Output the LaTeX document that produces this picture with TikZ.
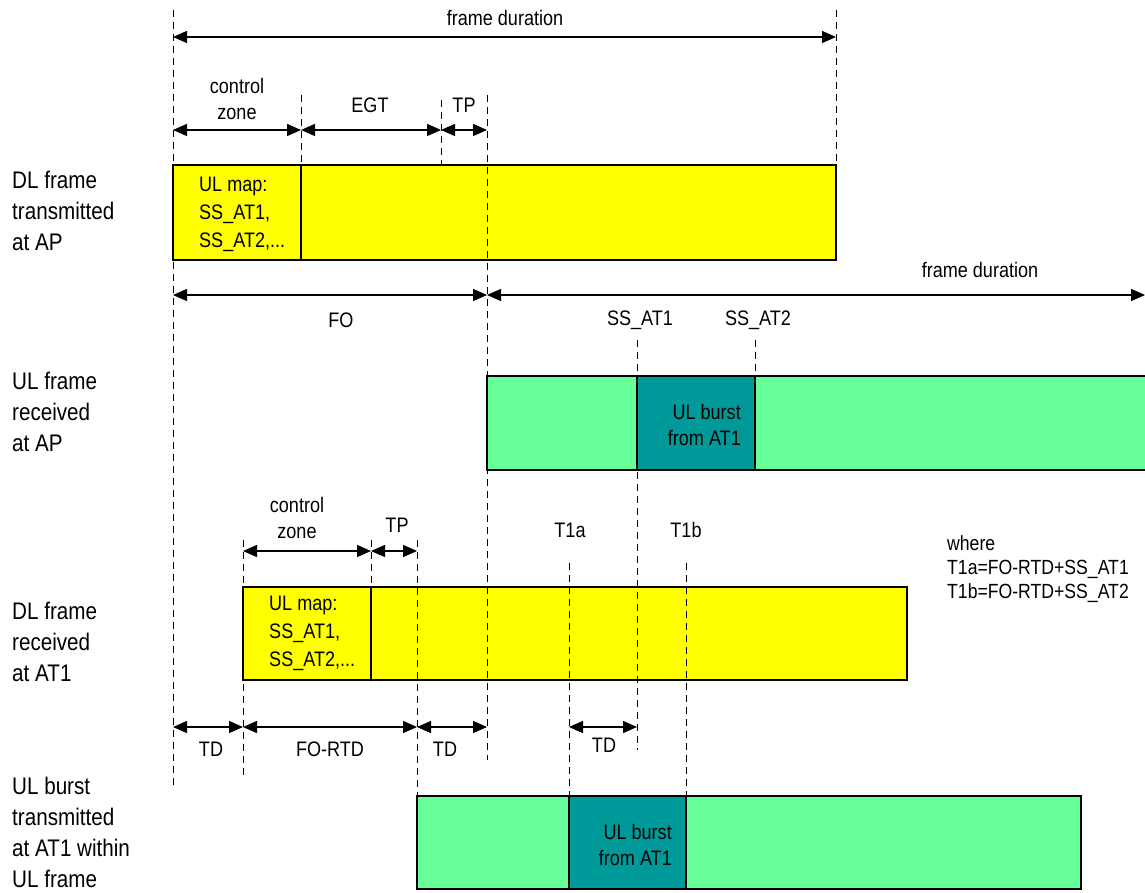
\documentclass[tikz,border=0pt]{standalone}
\usepackage{fontspec}
\setmainfont{Liberation Sans}[FakeStretch=0.86]
\usetikzlibrary{arrows.meta}
\definecolor{dlyellow}{RGB}{255,255,0}
\definecolor{ulgreen}{RGB}{102,255,153}
\definecolor{burstteal}{RGB}{0,153,153}
\tikzset{
  tmark/.style={dashed, dash pattern=on 7pt off 5pt, line width=1pt},
  span/.style={{Triangle[length=14pt,width=12pt]}-{Triangle[length=14pt,width=12pt]},
               line width=1.4pt},
  box/.style={line width=1.4pt},
  lbl/.style={font=\fontsize{21}{26}\selectfont, align=center, inner sep=0pt},
  rowlbl/.style={font=\fontsize{24}{31}\selectfont, align=left, anchor=west, inner sep=0pt},
  boxtxt/.style={font=\fontsize{21}{28}\selectfont, align=left, anchor=west, inner sep=0pt},
  bursttxt/.style={font=\fontsize{21}{26}\selectfont, align=right, anchor=east, inner sep=0pt}
}
\begin{document}
\begin{tikzpicture}[x=1pt, y=-1pt]
  \useasboundingbox (0,0) rectangle (1145,893);
  %--- boxes -----------------------------------------------------------------
  % DL frame transmitted at AP
  \filldraw[box, fill=dlyellow] (173,165) rectangle (836,260);
  \draw[box] (301,165) -- (301,260);
  \node[boxtxt] (mapap) at (199,214) {UL map:\\SS\_AT1,\\SS\_AT2,...};
  % UL frame received at AP
  \fill[ulgreen] (487,376) rectangle (1145,470);
  \filldraw[box, fill=burstteal] (637,376) rectangle (755,470);
  \draw[box] (1145,376) -- (487,376) -- (487,470) -- (1145,470);
  \node[bursttxt] (burstap) at (741,425) {UL burst\\from AT1};
  % DL frame received at AT1
  \filldraw[box, fill=dlyellow] (243,587) rectangle (907,680);
  \draw[box] (371,587) -- (371,680);
  \node[boxtxt] (mapat) at (269,633) {UL map:\\SS\_AT1,\\SS\_AT2,...};
  % UL burst transmitted at AT1
  \filldraw[box, fill=ulgreen] (417,796) rectangle (1081,889);
  \filldraw[box, fill=burstteal] (569,796) rectangle (686,889);
  \node[bursttxt] (burstat) at (672,845) {UL burst\\from AT1};
  %--- time marks ------------------------------------------------------------
  \draw[tmark] (173,10) -- (173,785);
  \draw[tmark] (836,10) -- (836,165);
  \draw[tmark] (301,95) -- (301,165);
  \draw[tmark] (441,100) -- (441,165);
  \draw[tmark] (487,95) -- (487,760);
  \draw[tmark] (637,340) -- (637,750);
  \draw[tmark] (755,340) -- (755,376);
  \draw[tmark] (243,540) -- (243,780);
  \draw[tmark] (371,540) -- (371,587);
  \draw[tmark] (417,540) -- (417,796);
  \draw[tmark] (569,563) -- (569,796);
  \draw[tmark] (686,563) -- (686,796);
  %--- spans -----------------------------------------------------------------
  \draw[span] (173,37) -- (836,37);
  \node[lbl] (fd1) at (505,18) {frame duration};
  \draw[span] (173,130) -- (301,130);
  \draw[span] (301,130) -- (441,130);
  \draw[span] (441,130) -- (487,130);
  \node[lbl] (cz1) at (237,99) {control\\zone};
  \node[lbl] (egt) at (370,105) {EGT};
  \node[lbl] (tp1) at (464,105) {TP};
  \draw[span] (173,295) -- (487,295);
  \draw[span] (487,295) -- (1145,295);
  \node[lbl] (fo) at (341,320) {FO};
  \node[lbl] (fd2) at (980,270) {frame duration};
  \node[lbl] (ss1) at (640,320) {SS\_AT1};
  \node[lbl] (ss2) at (758,320) {SS\_AT2};
  \draw[span] (243,551) -- (371,551);
  \draw[span] (371,551) -- (417,551);
  \node[lbl] (cz2) at (297,518) {control\\zone};
  \node[lbl] (tp2) at (397,525) {TP};
  \node[lbl] (t1a) at (570,530) {T1a};
  \node[lbl] (t1b) at (686,530) {T1b};
  \node[font=\fontsize{20.5}{24}\selectfont, align=left, anchor=west, inner sep=0pt]
    (where) at (947,569) {where\\T1a=FO-RTD+SS\_AT1\\T1b=FO-RTD+SS\_AT2};
  \draw[span] (173,727) -- (243,727);
  \draw[span] (243,727) -- (417,727);
  \draw[span] (417,727) -- (487,727);
  \draw[span] (569,727) -- (637,727);
  \node[lbl] (td1) at (211,749) {TD};
  \node[lbl] (fortd) at (330,749) {FO-RTD};
  \node[lbl] (td2) at (445,749) {TD};
  \node[lbl] (td3) at (604,745) {TD};
  %--- row labels ------------------------------------------------------------
  \node[rowlbl] (dltx) at (12,211) {DL frame\\transmitted\\at AP};
  \node[rowlbl] (ulrx) at (12,412) {UL frame\\received\\at AP};
  \node[rowlbl] (dlrx) at (12,642) {DL frame\\received\\at AT1};
  \node[rowlbl] (ultx) at (12,832) {UL burst\\transmitted\\at AT1 within\\UL frame};
\end{tikzpicture}
\end{document}
